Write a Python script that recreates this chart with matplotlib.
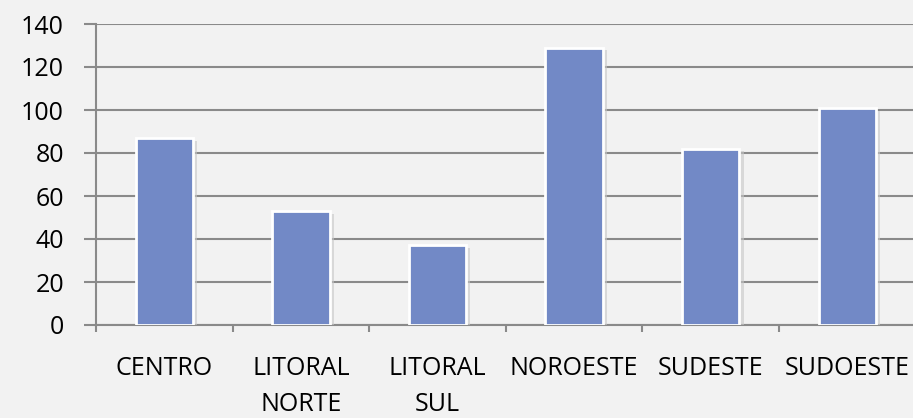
import matplotlib.pyplot as plt
import matplotlib.patheffects as pe

regioes = ['CENTRO', 'LITORAL\nNORTE', 'LITORAL\nSUL', 'NOROESTE', 'SUDESTE', 'SUDOESTE']
valores = [87, 53, 37, 129, 82, 101]
y_ticks = [0, 20, 40, 60, 80, 100, 120, 140]

plt.rcParams['font.family'] = ['Open Sans', 'DejaVu Sans']

fig = plt.figure(figsize=(9.13, 4.18), dpi=100)
fig.patch.set_facecolor('#f2f2f2')
ax = fig.add_axes([96 / 913, 93 / 418, 819.6 / 913, 301 / 418])
ax.set_facecolor('#f2f2f2')

pos = list(range(len(regioes)))
bars = ax.bar(pos, valores, width=0.42, color='#7289c6', edgecolor='white',
              linewidth=2, zorder=3)
for b in bars:
    b.set_path_effects([pe.SimplePatchShadow(offset=(3, -2), shadow_rgbFace='#c8c8c8', alpha=0.6),
                        pe.Normal()])

ax.set_xlim(-0.5, len(regioes) - 0.5)
ax.set_ylim(0, 140)
ax.set_yticks(y_ticks)
ax.yaxis.grid(True, color='#8a8a8a', linewidth=1.5, zorder=0)
ax.set_axisbelow(True)

# x ticks sit between categories, labels are centred under bars
ax.set_xticks([p - 0.5 for p in pos], minor=False)
ax.set_xticklabels([])
ax.set_xticks(pos, minor=True)
ax.set_xticklabels(regioes, minor=True, fontsize=18, linespacing=1.58, va='top')
ax.tick_params(axis='x', which='minor', length=0, pad=22)
ax.tick_params(axis='x', which='major', length=5, width=1.5, color='#8a8a8a')
ax.tick_params(axis='y', length=9, width=1.5, color='#8a8a8a', pad=14, labelsize=18)

for s in ['top', 'right']:
    ax.spines[s].set_visible(False)
for s in ['left', 'bottom']:
    ax.spines[s].set_color('#8a8a8a')
    ax.spines[s].set_linewidth(1.5)

fig.savefig('out.png', dpi=100, facecolor=fig.get_facecolor())
